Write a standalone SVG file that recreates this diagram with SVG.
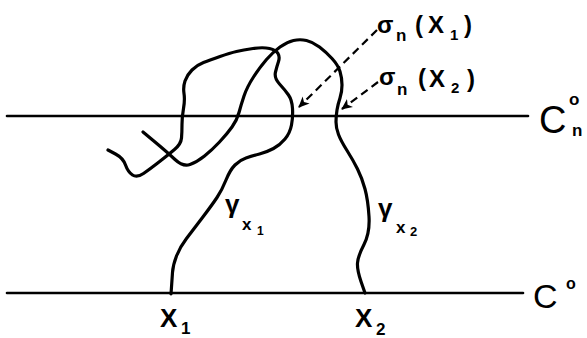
<svg xmlns="http://www.w3.org/2000/svg" width="587" height="338" viewBox="0 0 587 338">
<style>
.ln{stroke:#000;stroke-width:2.6;fill:none;stroke-linecap:round}
.cv{stroke:#000;stroke-width:3.2;fill:none;stroke-linecap:round;stroke-linejoin:round}
.da{stroke:#000;stroke-width:2.2;fill:none;stroke-dasharray:8 5}
text{font-family:"Liberation Sans","DejaVu Sans",sans-serif;fill:#000;font-weight:bold}
.big{font-weight:normal}
</style>
<defs>
<marker id="ah" markerWidth="12" markerHeight="12" refX="10" refY="5" orient="auto" markerUnits="userSpaceOnUse" viewBox="0 0 12 10">
<path d="M0,0 L11,5 L0,10 L3,5 Z" fill="#000"/>
</marker>
</defs>
<g id="lines">
<line id="Cn0-line" class="ln" x1="7" y1="116" x2="528" y2="116"/>
<line id="C0-line" class="ln" x1="7" y1="293" x2="523" y2="293"/>
</g>
<g id="curve-x1">
<path class="cv" d="M171,294 L171.5,287 Q172,280 172.5,272.5 Q173,265 176.5,256 Q180,247 186.5,238.5 Q193,230 202.5,217.5 Q212,205 217,197.5 Q222,190 226,180 Q230,170 235,165 Q240,160 246,158 Q252,156 259.5,154 Q267,152 273.5,148.5 Q280,145 285,139 Q290,133 291.5,125 Q293,117 292.5,108.5 Q292,100 288.5,95 Q285,90 279.5,84 Q274,78 275.5,72 Q277,66 278.5,61.5 Q280,57 278,53.5 Q276,50 269.5,48.5 Q263,47 253,48.5 Q243,50 236.5,51.5 Q230,53 220,56.5 Q210,60 203.5,62.5 Q197,65 192,70 Q187,75 185,81 Q183,87 184,93.5 Q185,100 183.5,108.5 Q182,117 182,124.5 Q182,132 181.5,138 Q181,144 174.5,149.5 Q168,155 159,162 Q150,169 143.5,173.5 Q137,178 132.5,175 Q128,172 125.5,165 Q123,158 115.5,154 L108,150"/>
</g>
<g id="curve-x2">
<path class="cv" d="M143,132 L155,142 Q167,152 175,159.5 Q183,167 190,164.5 Q197,162 204.5,156 Q212,150 219.5,142 Q227,134 232,127 Q237,120 239,112.5 Q241,105 244,96 Q247,87 253.5,77 Q260,67 266.5,59.5 Q273,52 280,47 Q287,42 293.5,40.5 Q300,39 306.5,40.5 Q313,42 319.5,47 Q326,52 332,58.5 Q338,65 340,71.5 Q342,78 342,85 Q342,92 340,98 Q338,104 337,110 Q336,116 336,122 Q336,128 338.5,134.5 Q341,141 347,150.5 Q353,160 357.5,169 Q362,178 365,189 Q368,200 369,216.5 Q370,233 364,244.5 Q358,256 357.5,263 Q357,270 361,281.5 L365,293"/>
</g>
<g id="connectors">
<line class="da" x1="377" y1="30" x2="299" y2="107" marker-end="url(#ah)"/>
<line class="da" x1="378" y1="82" x2="342" y2="109" marker-end="url(#ah)"/>
</g>
<g id="label-sigma1">
<text font-size="24"><tspan x="377" y="33">σ</tspan><tspan x="396" y="41" font-size="17">n</tspan><tspan x="415" y="33">(</tspan><tspan x="428" y="33">X</tspan><tspan x="450" y="40" font-size="15">1</tspan><tspan x="464" y="33">)</tspan></text>
</g>
<g id="label-sigma2">
<text font-size="24"><tspan x="379" y="85">σ</tspan><tspan x="397" y="95" font-size="17">n</tspan><tspan x="418" y="86">(</tspan><tspan x="429" y="87">X</tspan><tspan x="451" y="93" font-size="15">2</tspan><tspan x="467" y="87">)</tspan></text>
</g>
<g id="label-Cn0">
<text font-size="38"><tspan class="big" x="539" y="133">C</tspan><tspan x="569" y="105" font-size="17">o</tspan><tspan x="572" y="136" font-size="17">n</tspan></text>
</g>
<g id="label-C0">
<text font-size="34"><tspan class="big" x="533" y="308">C</tspan><tspan x="566" y="289" font-size="16">o</tspan></text>
</g>
<g id="label-gamma1">
<text font-size="26"><tspan x="225" y="213">γ</tspan><tspan x="242" y="230" font-size="17">x</tspan><tspan x="257" y="235" font-size="12">1</tspan></text>
</g>
<g id="label-gamma2">
<text font-size="26"><tspan x="378" y="217">γ</tspan><tspan x="396" y="233" font-size="17">x</tspan><tspan x="410" y="236" font-size="13">2</tspan></text>
</g>
<g id="label-x1">
<text font-size="26"><tspan x="160" y="327">X</tspan><tspan x="181" y="334" font-size="17">1</tspan></text>
</g>
<g id="label-x2">
<text font-size="26"><tspan x="355" y="327">X</tspan><tspan x="376" y="335" font-size="17">2</tspan></text>
</g>
</svg>
